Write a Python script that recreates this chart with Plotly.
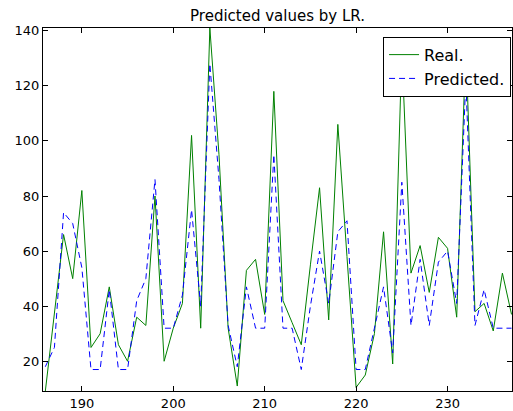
import plotly.graph_objects as go

x_vals = list(range(186, 238))
real_vals = [9, 38, 66, 50, 82, 25, 30, 47, 26, 20,
             36, 33, 80, 20, 32, 41, 102, 32, 141, 95,
             32, 11, 53, 57, 37, 118, 42, 34, 26, 55,
             83, 35, 106, 58, 10.5, 15, 30, 67, 19, 133,
             52, 62, 45, 65, 61, 36, 135, 38, 41, 31,
             52, 37]
pred_vals = [18, 25, 74, 70, 54, 17, 17, 46, 17, 17,
             42, 50, 86, 32, 32, 44, 75, 40, 128, 86,
             33, 18, 47, 32, 32, 95, 32, 32, 17, 40,
             60, 41, 67, 71, 17, 17, 32, 47, 23, 85,
             33, 57, 33, 56, 60, 41, 122, 33, 46, 32,
             32, 32]
x_ticks = [190, 200, 210, 220, 230]
y_ticks = [20, 40, 60, 80, 100, 120, 140]

font_family = "DejaVu Sans"

fig = go.Figure()
fig.add_trace(go.Scatter(x=x_vals, y=real_vals, mode="lines", name="Real.",
                         line=dict(color="#008000", width=1)))
fig.add_trace(go.Scatter(x=x_vals, y=pred_vals, mode="lines", name="Predicted.",
                         line=dict(color="#0000ff", width=1, dash="6px,4px")))

axis_common = dict(showgrid=False, zeroline=False, showline=True, linecolor="black",
                   linewidth=1, mirror="allticks", ticks="inside", ticklen=5,
                   tickcolor="black", tickfont=dict(family=font_family, size=13, color="black"))

fig.update_layout(
    width=513, height=411,
    margin=dict(l=43, r=0, t=28, b=14),
    paper_bgcolor="white", plot_bgcolor="white",
    font=dict(family=font_family, color="black"),
    title=dict(text="Predicted values by LR.", x=0.5, xref="paper", xanchor="center",
               y=1 - 16 / 411, yref="container", yanchor="middle",
               font=dict(family=font_family, size=15, color="black")),
    xaxis=dict(range=[185.75, 237.05], tickvals=x_ticks, **axis_common),
    yaxis=dict(range=[9.2, 141], tickvals=y_ticks, **axis_common),
    legend=dict(x=0.998, y=0.976, xanchor="right", yanchor="top",
                bgcolor="white", bordercolor="black", borderwidth=1,
                font=dict(family=font_family, size=16, color="black"),
                tracegroupgap=0),
    showlegend=True,
)

fig.write_html("out.html")
